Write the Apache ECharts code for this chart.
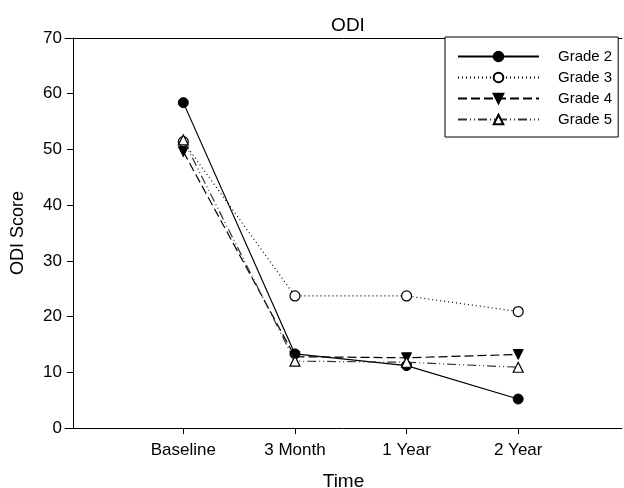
<!DOCTYPE html>
<html>
<head>
<meta charset="utf-8">
<script src="https://cdn.jsdelivr.net/npm/echarts@6/dist/echarts.min.js"></script>
<style>
  html, body { margin: 0; padding: 0; background: #fff; }
  #chart { width: 624px; height: 488px; }
</style>
</head>
<body>
<div id="chart"></div>
<script>
let categories = ["Baseline", "3 Month", "1 Year", "2 Year"];
let grade2 = [58.4, 13.3, 11.2, 5.2];
let grade3 = [51.4, 23.7, 23.7, 20.9];
let grade4 = [49.6, 12.8, 12.6, 13.2];
let grade5 = [51.7, 12.0, 11.8, 10.9];
let yTicks = [0, 10, 20, 30, 40, 50, 60, 70];

let xPos = categories.map((c, i) => i + 1);
function toPoints(vals) {
  return vals.map((v, i) => [xPos[i], v]);
}

var myChart = echarts.init(document.getElementById("chart"));
let font = "Liberation Sans, Arial, sans-serif";
let black = "#000";

let option = {
  animation: false,
  textStyle: { fontFamily: font },
  title: {
    text: "ODI",
    left: 343,
    textAlign: "center",
    top: 11,
    textStyle: { fontSize: 19, fontWeight: "normal", color: black, fontFamily: font },
  },
  grid: { left: 65, right: 2, top: 38, bottom: 60, containLabel: false, outerBoundsMode: "none" },
  legend: {
    left: 445,
    top: 37,
    orient: "vertical",
    backgroundColor: "#fff",
    borderColor: black,
    borderWidth: 1,
    padding: [12, 6, 10, 12],
    itemWidth: 81,
    itemHeight: 12,
    itemGap: 6,
    textStyle: {
      fontSize: 15,
      color: black,
      fontFamily: font,
      padding: [0, 0, 0, 14],
    },
    data: ["Grade 2", "Grade 3", "Grade 4", "Grade 5"],
  },
  xAxis: [
    {
      type: "value",
      min: -0.06,
      max: 4.93,
      name: "Time",
      nameLocation: "middle",
      nameGap: 44,
      nameTextStyle: { fontSize: 19, color: black, fontFamily: font },
      splitLine: { show: false },
      axisLine: { show: true, onZero: false, lineStyle: { color: black, width: 1 } },
      axisTick: { show: true, length: 6, customValues: xPos, lineStyle: { color: black } },
      axisLabel: {
        customValues: xPos,
        margin: 14,
        fontSize: 17,
        color: black,
        fontFamily: font,
        formatter: (v) => categories[Math.round(v) - 1] || "",
      },
    },
    {
      type: "value",
      position: "top",
      min: -0.06,
      max: 4.93,
      splitLine: { show: false },
      axisLine: { show: true, onZero: false, lineStyle: { color: black, width: 1 } },
      axisTick: { show: false },
      axisLabel: { show: false },
    },
  ],
  yAxis: {
    type: "value",
    min: 0,
    max: 70,
    interval: 10,
    offset: -8,
    name: "ODI Score",
    nameLocation: "middle",
    nameGap: 46,
    nameTextStyle: { fontSize: 18, color: black, fontFamily: font },
    splitLine: { show: false },
    axisLine: { show: true, onZero: false, lineStyle: { color: black, width: 1 } },
    axisTick: { show: true, length: 6, lineStyle: { color: black } },
    axisLabel: {
      margin: 11,
      fontSize: 17,
      color: black,
      fontFamily: font,
      formatter: (v) => (yTicks.indexOf(v) >= 0 ? String(v) : ""),
    },
  },
  series: [
    {
      name: "Grade 2",
      type: "line",
      data: toPoints(grade2),
      symbol: "circle",
      symbolSize: 10,
      itemStyle: { color: black, borderColor: black, borderWidth: 1 },
      lineStyle: { color: black, width: 1.2, type: "solid" },
      z: 5,
    },
    {
      name: "Grade 3",
      type: "line",
      data: toPoints(grade3),
      symbol: "circle",
      symbolSize: 10,
      itemStyle: { color: "#fff", borderColor: black, borderWidth: 1.2 },
      lineStyle: { color: black, width: 1.2, type: [1, 3] },
      z: 4,
    },
    {
      name: "Grade 4",
      type: "line",
      data: toPoints(grade4),
      symbol: "triangle",
      symbolRotate: 180,
      symbolSize: 10,
      itemStyle: { color: black, borderColor: black, borderWidth: 1 },
      lineStyle: { color: black, width: 1.2, type: [9, 4] },
      z: 3,
    },
    {
      name: "Grade 5",
      type: "line",
      data: toPoints(grade5),
      symbol: "triangle",
      symbolSize: 10,
      itemStyle: { color: "#fff", borderColor: black, borderWidth: 1.2 },
      lineStyle: { color: "#333", width: 1.2, type: [9, 3, 1, 3, 1, 3] },
      z: 6,
    },
  ],
};
myChart.setOption(option);
</script>
</body>
</html>
